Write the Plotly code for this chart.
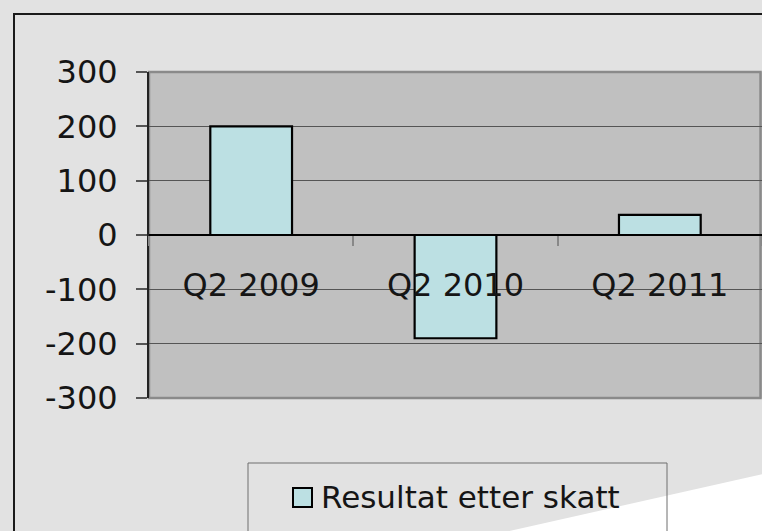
import plotly.graph_objects as go

CATEGORIES = ["Q2 2009", "Q2 2010", "Q2 2011"]
VALUES = [200, -190, 37]
SERIES_NAME = "Resultat etter skatt"
Y_TICKS = [-300, -200, -100, 0, 100, 200, 300]
Y_TICK_LABELS = ["-300", "-200", "-100", "0", "100", "200", "300"]

W, H = 762, 531
FONT = "DejaVu Sans"
TXT = "#151515"
BAR_FILL = "#BCE0E3"


def px(x):
    return x / W


def py(y):
    return (H - y) / H


fig = go.Figure()
fig.add_trace(go.Bar(
    x=CATEGORIES, y=VALUES, name=SERIES_NAME, width=0.4,
    marker=dict(color=BAR_FILL, line=dict(color="#000000", width=2.2)),
    showlegend=False,
))

shapes = [
    # white decorative wedge bottom-right
    dict(type="path", xref="paper", yref="paper", layer="below",
         path=f"M {px(505)} {py(532)} L {px(763)} {py(474)} L {px(763)} {py(532)} Z",
         fillcolor="#FFFFFF", line=dict(width=0)),
    # outer chart border
    dict(type="rect", xref="paper", yref="paper", layer="above",
         x0=px(14), x1=px(775), y0=py(545), y1=py(14),
         line=dict(color="#1a1a1a", width=2), fillcolor="rgba(0,0,0,0)"),
    # plot area border
    dict(type="rect", xref="paper", yref="paper", layer="below",
         x0=px(149), x1=px(760.5), y0=py(398), y1=py(72),
         line=dict(color="#8a8a8a", width=2.5), fillcolor="rgba(0,0,0,0)"),
    # legend box
    dict(type="rect", xref="paper", yref="paper", layer="above",
         x0=px(248), x1=px(667), y0=py(545), y1=py(463),
         line=dict(color="#6e6e6e", width=1), fillcolor="rgba(0,0,0,0)"),
    # legend swatch
    dict(type="rect", xref="paper", yref="paper", layer="above",
         x0=px(293), x1=px(312), y0=py(507), y1=py(488),
         line=dict(color="#000000", width=2), fillcolor=BAR_FILL),
]

annotations = [
    dict(xref="paper", yref="paper", x=px(319), y=py(497), xanchor="left", yanchor="middle",
         text=SERIES_NAME, showarrow=False, font=dict(family=FONT, size=31, color=TXT)),
]

fig.update_layout(
    width=W, height=H, autosize=False,
    margin=dict(l=0, r=0, t=0, b=0, pad=0),
    paper_bgcolor="#E2E2E2",
    plot_bgcolor="#C0C0C0",
    showlegend=False,
    bargap=0.6,
    shapes=shapes,
    annotations=annotations,
    xaxis=dict(
        type="category", range=[-0.5, 2.5], domain=[px(149), 1.0],
        anchor="free", position=py(235), automargin=False,
        showline=True, linecolor="#000000", linewidth=1.5,
        ticks="outside", tickson="boundaries", ticklen=10, tickwidth=1.5, tickcolor="#888888",
        showgrid=False, zeroline=False,
        tickfont=dict(family=FONT, size=32, color=TXT),
        ticklabelstandoff=22,
    ),
    yaxis=dict(
        range=[-300, 300], domain=[py(398), py(72)], anchor="x", automargin=False,
        tickmode="array", tickvals=Y_TICKS, ticktext=Y_TICK_LABELS,
        ticks="outside", ticklen=11, tickwidth=1.5, tickcolor="#555555",
        showgrid=True, gridcolor="#555555", gridwidth=1.3,
        zeroline=True, zerolinecolor="#000000", zerolinewidth=1.5,
        showline=True, linecolor="#222222", linewidth=2,
        tickfont=dict(family=FONT, size=32, color=TXT),
        ticklabelstandoff=12,
    ),
)

fig.write_html(
    "out.html",
    config={"displayModeBar": False},
    post_script="document.body.style.margin='0';document.body.style.overflow='hidden';",
)
